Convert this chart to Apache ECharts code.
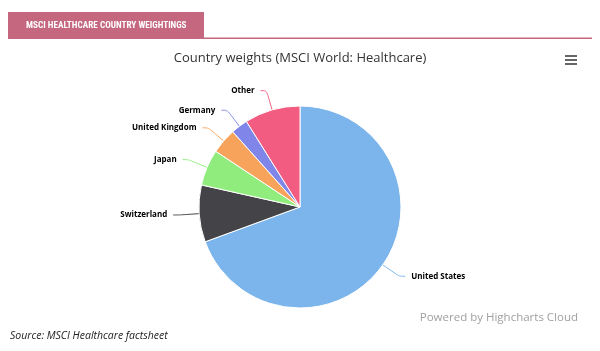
<!DOCTYPE html>
<html><head><meta charset="utf-8">
<script src="https://cdn.jsdelivr.net/npm/echarts@6/dist/echarts.min.js"></script>
<style>html,body{margin:0;padding:0;background:#fff}#c{width:600px;height:351px}</style>
</head><body><div id="c"></div>
<script>
const categories = ['United States','Switzerland','Japan','United Kingdom','Germany','Other'];
const weights = [69.4, 9.1, 5.8, 4.1, 2.7, 8.9];
const colors = ['#7cb5ec','#434348','#90ed7d','#f7a35c','#8085e9','#f15c80'];

const chart = echarts.init(document.getElementById('c'));
chart.setOption({
  animation:false,
  title:{text:'Country weights (MSCI World: Healthcare)',left:'center',top:47,
    textStyle:{fontFamily:'Open Sans',fontSize:13,fontWeight:'normal',color:'#333'}},
  graphic:[
    {type:'rect',shape:{x:8,y:12,width:196,height:27},style:{fill:'#c4677f'}},
    {type:'text',x:26,y:25.5,style:{text:'MSCI HEALTHCARE COUNTRY WEIGHTINGS',fill:'#fff',
      font:'bold 9.2px "Roboto Condensed", "Liberation Sans Narrow", Roboto, sans-serif',textVerticalAlign:'middle'}},
    {type:'rect',shape:{x:204,y:37.5,width:388,height:1.5},style:{fill:'#c4677f'}},
    {type:'rect',shape:{x:565,y:55,width:12,height:2},style:{fill:'#666'}},
    {type:'rect',shape:{x:565,y:59,width:12,height:2},style:{fill:'#666'}},
    {type:'rect',shape:{x:565,y:63,width:12,height:2},style:{fill:'#666'}},
    {type:'text',x:578,y:318,style:{text:'Powered by Highcharts Cloud',fill:'#a0a0a0',align:'right',
      font:'11.5px "Open Sans", sans-serif',textVerticalAlign:'middle'}},
    {type:'text',x:10,y:336,style:{text:'Source: MSCI Healthcare factsheet',fill:'#222',
      font:'italic 10.5px "Open Sans", sans-serif',textVerticalAlign:'middle'}}
  ],
  series:[{
    type:'pie',
    center:[300,207],
    radius:101,
    startAngle:90,
    clockwise:true,
    avoidLabelOverlap:true,
    itemStyle:{borderColor:'#fff',borderWidth:1},
    label:{show:true,formatter:'{b}',fontSize:8,fontWeight:'bold',color:'#000',
      fontFamily:'"Open Sans", sans-serif',distanceToLabelLine:6},
    labelLine:{show:true,length:20,length2:6,smooth:0.3,lineStyle:{width:1}},
    data:categories.map((n,i)=>({name:n,value:weights[i],itemStyle:{color:colors[i]}}))
  }]
});
</script></body></html>
